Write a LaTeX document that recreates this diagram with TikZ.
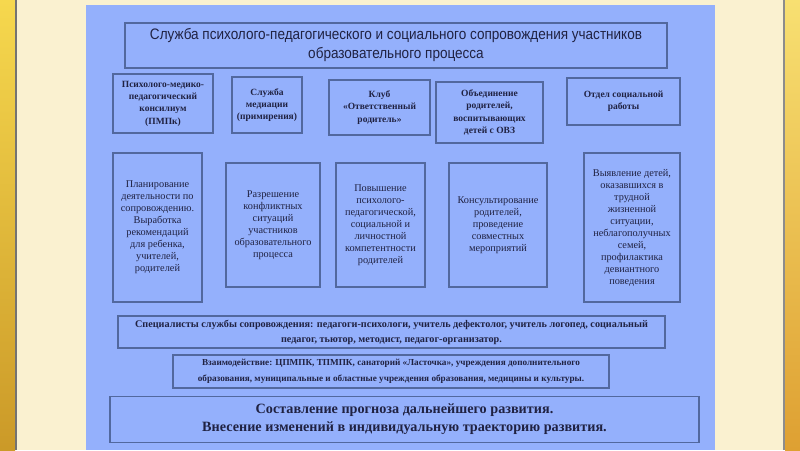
\documentclass[tikz,border=0pt]{standalone}
\usepackage{fontspec}
\setmainfont{Liberation Serif}
\newfontfamily\narrowsans[FakeStretch=0.89]{Liberation Sans}
\usepackage{xcolor}
\usepackage{tikz}
\usetikzlibrary{positioning}

\definecolor{panelblue}{RGB}{148,176,252}
\definecolor{boxline}{RGB}{82,104,158}
\definecolor{inktext}{RGB}{32,34,66}
\definecolor{cream}{RGB}{250,241,208}
\definecolor{sunny}{RGB}{246,216,78}
\definecolor{amber}{RGB}{222,160,50}

\begin{document}
\begin{tikzpicture}[
    x=1pt, y=-1pt,
    box/.style={rectangle, draw=boxline, line width=1.2pt, align=center, inner sep=1pt, text=inktext},
    headbox/.style={box, font=\narrowsans\fontsize{15.2}{19}\selectfont},
    unitbox/.style={box, font=\bfseries\fontsize{9.5}{12.3}\selectfont},
    taskbox/.style={box, font=\fontsize{10.3}{12}\selectfont},
    stripbox/.style={box, font=\bfseries\fontsize{10.2}{15}\selectfont},
]
% background
\fill[cream] (0,0) rectangle (800,450);
\shade[top color=sunny, bottom color=amber!80!olive] (0,0) rectangle (15,450);
\shade[top color=sunny!80!white, bottom color=amber] (785,0) rectangle (800,450);
\fill[black!55] (15,0) rectangle (17,450);
\fill[black!45] (783,0) rectangle (785,450);
\fill[panelblue] (86,5) rectangle (715,450);

% title
\node[headbox, minimum width=542pt, minimum height=45pt] (service) at (396,45.5)
    {Служба психолого-педагогического и социального сопровождения участников\\образовательного процесса};

% units
\node[unitbox, minimum width=100pt, minimum height=59pt] (pmpk) at (163,103.5)
    {Психолого-медико-\\педагогический\\консилиум\\(ПМПк)};
\node[unitbox, minimum width=70pt, minimum height=56pt] (mediation) at (267,105)
    {Служба\\медиации\\(примирения)};
\node[unitbox, minimum width=101pt, minimum height=55pt] (club) at (379.5,107.5)
    {Клуб\\«Ответственный\\родитель»};
\node[unitbox, minimum width=107pt, minimum height=61pt] (parents) at (489.5,112.5)
    {Объединение\\родителей,\\воспитывающих\\детей с ОВЗ};
\node[unitbox, minimum width=113pt, minimum height=47pt] (social) at (623.5,101.5)
    {Отдел социальной\\работы};

% tasks
\node[taskbox, minimum width=89pt, minimum height=149pt] (planning) at (157.5,227.5)
    {Планирование\\деятельности по\\сопровождению.\\Выработка\\рекомендаций\\для ребенка,\\учителей,\\родителей};
\node[taskbox, minimum width=94pt, minimum height=124pt] (conflicts) at (273,225)
    {Разрешение\\конфликтных\\ситуаций\\участников\\образовательного\\процесса};
\node[taskbox, minimum width=89pt, minimum height=124pt] (competence) at (380.5,225)
    {Повышение\\психолого-\\педагогической,\\социальной и\\личностной\\компетентности\\родителей};
\node[taskbox, minimum width=98pt, minimum height=124pt] (consulting) at (498,225)
    {Консультирование\\родителей,\\проведение\\совместных\\мероприятий};
\node[taskbox, minimum width=96pt, minimum height=149pt] (risk) at (632,227.5)
    {Выявление детей,\\оказавшихся в\\трудной\\жизненной\\ситуации,\\неблагополучных\\семей,\\профилактика\\девиантного\\поведения};

% bottom strips
\node[stripbox, minimum width=547pt, minimum height=32pt] (staff) at (391.5,332)
    {Специалисты службы сопровождения: педагоги-психологи, учитель дефектолог, учитель логопед, социальный\\педагог, тьютор, методист, педагог-организатор.};
\node[stripbox, font=\bfseries\fontsize{9.2}{16}\selectfont, minimum width=436pt, minimum height=33pt] (partners) at (391,371.5)
    {Взаимодействие: ЦПМПК, ТПМПК, санаторий «Ласточка», учреждения дополнительного\\образования, муниципальные и областные учреждения образования, медицины и культуры.};
\node[box, font=\bfseries\fontsize{14.2}{18}\selectfont, minimum width=589pt, minimum height=46pt] (forecast) at (404.5,419.5)
    {Составление прогноза дальнейшего развития.\\Внесение изменений в индивидуальную траекторию развития.};
\end{tikzpicture}
\end{document}
